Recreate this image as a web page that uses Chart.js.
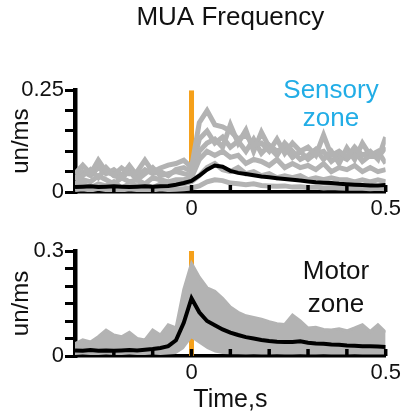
<!DOCTYPE html>
<html>
<head>
<meta charset="utf-8">
<script src="https://cdn.jsdelivr.net/npm/chart.js@4.4.1/dist/chart.umd.min.js"></script>
<style>
  html, body { margin: 0; padding: 0; background: #fff; }
  #wrap { position: relative; width: 405px; height: 419px; overflow: hidden; }
  canvas { position: absolute; left: 0; display: block; }
  #sensory { top: 0; }
  #motor { top: 220px; }
</style>
</head>
<body>
<div id="wrap">
  <canvas id="sensory" width="405" height="220"></canvas>
  <canvas id="motor" width="405" height="199"></canvas>
</div>
<script>
// time axis (s), bins of 20 ms
const timeS = [-0.3,-0.28,-0.26,-0.24,-0.22,-0.2,-0.18,-0.16,-0.14,-0.12,-0.1,-0.08,-0.06,-0.04,-0.02,0,0.02,0.04,0.06,0.08,0.1,0.12,0.14,0.16,0.18,0.2,0.22,0.24,0.26,0.28,0.3,0.32,0.34,0.36,0.38,0.4,0.42,0.44,0.46,0.48,0.5];
const xTickLabels = ["0", "0.5"];

// Sensory zone: single channels (grey) and mean (black)
const sensMean = [0.012,0.013,0.014,0.012,0.013,0.014,0.013,0.012,0.013,0.014,0.013,0.014,0.015,0.018,0.022,0.027,0.04,0.055,0.065,0.062,0.052,0.047,0.044,0.041,0.038,0.036,0.034,0.032,0.03,0.028,0.026,0.024,0.023,0.022,0.02,0.019,0.018,0.017,0.016,0.016,0.017];
const sensTrace1 = [0.045,0.066,0.045,0.078,0.05,0.042,0.059,0.045,0.05,0.078,0.05,0.059,0.066,0.07,0.078,0.06,0.17,0.2,0.165,0.16,0.15,0.13,0.14,0.115,0.12,0.1,0.13,0.095,0.12,0.1,0.11,0.09,0.14,0.09,0.1,0.085,0.11,0.09,0.1,0.08,0.135];
const sensTrace2 = [0.03,0.04,0.055,0.035,0.06,0.04,0.035,0.05,0.03,0.045,0.06,0.04,0.045,0.05,0.045,0.04,0.1,0.12,0.13,0.11,0.165,0.12,0.152,0.1,0.147,0.11,0.09,0.12,0.1,0.08,0.09,0.105,0.08,0.1,0.07,0.108,0.08,0.12,0.09,0.1,0.07];
const sensTrace3 = [0.02,0.03,0.025,0.04,0.03,0.02,0.035,0.025,0.03,0.02,0.035,0.03,0.025,0.03,0.03,0.035,0.08,0.1,0.09,0.1,0.085,0.09,0.07,0.08,0.075,0.065,0.08,0.06,0.07,0.06,0.065,0.055,0.07,0.05,0.06,0.055,0.065,0.05,0.06,0.05,0.055];
const sensTrace4 = [0.015,0.02,0.01,0.02,0.015,0.025,0.01,0.02,0.015,0.02,0.01,0.02,0.015,0.02,0.02,0.025,0.04,0.06,0.07,0.055,0.05,0.06,0.045,0.05,0.04,0.045,0.035,0.04,0.035,0.04,0.03,0.035,0.03,0.035,0.03,0.03,0.025,0.03,0.025,0.03,0.025];
const sensTrace5 = [0.006,0.008,0.005,0.009,0.006,0.007,0.005,0.008,0.006,0.007,0.005,0.008,0.006,0.007,0.008,0.01,0.015,0.025,0.03,0.028,0.022,0.02,0.018,0.02,0.016,0.015,0.014,0.015,0.012,0.013,0.011,0.012,0.01,0.011,0.01,0.009,0.01,0.009,0.008,0.009,0.008];
const sensTrace6 = [0.035,0.05,0.04,0.06,0.045,0.055,0.04,0.065,0.04,0.055,0.045,0.05,0.04,0.055,0.06,0.05,0.13,0.15,0.12,0.135,0.11,0.125,0.1,0.13,0.095,0.115,0.1,0.11,0.085,0.1,0.08,0.095,0.1,0.075,0.09,0.08,0.1,0.075,0.09,0.085,0.11];
const sensYMax = 0.25;
const sensStim = [0.04, 0.25];

// Motor zone: grey envelope of channels and mean (black)
const motorMean = [0.016,0.015,0.017,0.015,0.016,0.015,0.016,0.017,0.016,0.018,0.02,0.023,0.028,0.045,0.095,0.165,0.125,0.1,0.088,0.076,0.067,0.06,0.054,0.05,0.046,0.043,0.041,0.04,0.04,0.042,0.038,0.036,0.035,0.033,0.032,0.03,0.029,0.028,0.028,0.027,0.026];
const motorUpper = [0.035,0.046,0.04,0.055,0.074,0.06,0.055,0.068,0.05,0.046,0.074,0.06,0.089,0.08,0.19,0.265,0.225,0.195,0.185,0.165,0.14,0.125,0.115,0.11,0.105,0.098,0.092,0.09,0.117,0.1,0.08,0.082,0.076,0.074,0.078,0.072,0.08,0.089,0.07,0.089,0.068];
const motorLower = [0.003,0.004,0.003,0.003,0.004,0.003,0.003,0.004,0.003,0.003,0.004,0.003,0.004,0.006,0.02,0.05,0.035,0.02,0.01,0.006,0.005,0.005,0.004,0.005,0.004,0.004,0.005,0.004,0.004,0.005,0.004,0.004,0.005,0.004,0.004,0.004,0.005,0.004,0.004,0.004,0.004];
const motorYMax = 0.3;
const motorStim = [0, 0.3];

const stimTime = 0;

const GREY = "#b3b3b3";
const ORANGE = "#f5a01a";
const FONT = "'Liberation Sans', Arial, Helvetica, sans-serif";

Chart.defaults.font.family = FONT;
Chart.defaults.color = "#111";

function pts(arr) {
  return timeS.map((t, i) => ({ x: t, y: arr[i] }));
}

function line(arr, color, width, extra) {
  return Object.assign({
    data: pts(arr),
    borderColor: color,
    backgroundColor: color,
    borderWidth: width,
    pointRadius: 0,
    tension: 0,
    fill: false,
  }, extra || {});
}

function stimLine(range) {
  return {
    data: [{ x: stimTime, y: range[0] }, { x: stimTime, y: range[1] }],
    borderColor: ORANGE,
    borderWidth: 5,
    pointRadius: 0,
    fill: false,
  };
}

// small tick marks drawn inward (upwards) on the time axis
const inwardTicks = {
  id: "inwardTicks",
  afterDatasetsDraw(chart) {
    const x = chart.scales.x;
    const area = chart.chartArea;
    const ctx = chart.ctx;
    ctx.save();
    ctx.strokeStyle = "#000";
    ctx.lineWidth = 3.5;
    x.ticks.forEach((t) => {
      if (t.value <= x.min + 1e-9) return;
      const px = x.getPixelForValue(t.value);
      ctx.beginPath();
      ctx.moveTo(px, area.bottom);
      ctx.lineTo(px, area.bottom - 7);
      ctx.stroke();
    });
    ctx.restore();
  },
};

function zoneLabel(lines, color, cx, baselines) {
  return {
    id: "zoneLabel",
    afterDraw(chart) {
      const ctx = chart.ctx;
      ctx.save();
      ctx.font = "26px " + FONT;
      ctx.fillStyle = color;
      ctx.textAlign = "center";
      ctx.textBaseline = "alphabetic";
      lines.forEach((s, i) => ctx.fillText(s, cx, baselines[i]));
      ctx.restore();
    },
  };
}

function panelOptions(yMax, xHeight) {
  return {
    responsive: false,
    animation: false,
    events: [],
    layout: { padding: { top: 0, right: 16, left: 0, bottom: 0 } },
    plugins: {
      legend: { display: false },
      tooltip: { enabled: false },
      title: { display: false },
    },
    scales: {
      x: {
        type: "linear",
        min: -0.3,
        max: 0.5,
        afterFit: (s) => { s.height = xHeight; },
        border: { display: true, color: "#000", width: 3.5 },
        grid: { drawOnChartArea: false, drawTicks: false },
        ticks: {
          stepSize: 0.1,
          autoSkip: false,
          maxRotation: 0,
          padding: 4,
          color: "#111",
          font: { size: 22 },
          callback: (v) => {
            if (Math.abs(v) < 1e-9) return xTickLabels[0];
            if (Math.abs(v - 0.5) < 1e-9) return xTickLabels[1];
            return "";
          },
        },
      },
      y: {
        min: 0,
        max: yMax,
        afterFit: (s) => { s.width = 75; },
        border: { display: true, color: "#000", width: 4.5 },
        grid: { drawOnChartArea: false, drawTicks: true, tickLength: 10, color: "#000", lineWidth: 3 },
        ticks: {
          stepSize: 0.05,
          autoSkip: false,
          padding: 1,
          color: "#111",
          font: { size: 22 },
          callback: (v) => {
            if (Math.abs(v) < 1e-9) return "0";
            if (Math.abs(v - yMax) < 1e-9) return String(yMax);
            return "";
          },
        },
        title: {
          display: true,
          text: "un/ms",
          color: "#111",
          font: { size: 24 },
          padding: { top: 7, bottom: 0 },
        },
      },
    },
  };
}

// ---- Sensory zone ----
const sensOpts = panelOptions(sensYMax, 28);
sensOpts.plugins.title = {
  display: true,
  text: "MUA Frequency",
  fullSize: false,
  color: "#111",
  font: { size: 26, weight: "normal" },
  padding: { top: 2, bottom: 57 },
};

new Chart(document.getElementById("sensory"), {
  type: "line",
  data: {
    datasets: [
      line(sensMean, "#000", 4),
      line(sensTrace1, GREY, 5),
      line(sensTrace2, GREY, 5),
      line(sensTrace6, GREY, 5),
      line(sensTrace3, GREY, 5),
      line(sensTrace4, GREY, 5),
      line(sensTrace5, GREY, 5),
      stimLine(sensStim),
    ],
  },
  options: sensOpts,
  plugins: [inwardTicks, zoneLabel(["Sensory", "zone"], "#22ade6", 331, [98, 126])],
});

// ---- Motor zone ----
const motorOpts = panelOptions(motorYMax, 63);
motorOpts.layout.padding.top = 31;
motorOpts.scales.x.title = {
  display: true,
  text: "Time,s",
  color: "#111",
  font: { size: 25 },
  padding: { top: 0, bottom: 4 },
};

new Chart(document.getElementById("motor"), {
  type: "line",
  data: {
    datasets: [
      line(motorMean, "#000", 4),
      line(motorUpper, GREY, 3, { fill: "+1" }),
      line(motorLower, GREY, 0),
      stimLine(motorStim),
    ],
  },
  options: motorOpts,
  plugins: [inwardTicks, zoneLabel(["Motor", "zone"], "#111", 336, [59, 92])],
});
</script>
</body>
</html>
